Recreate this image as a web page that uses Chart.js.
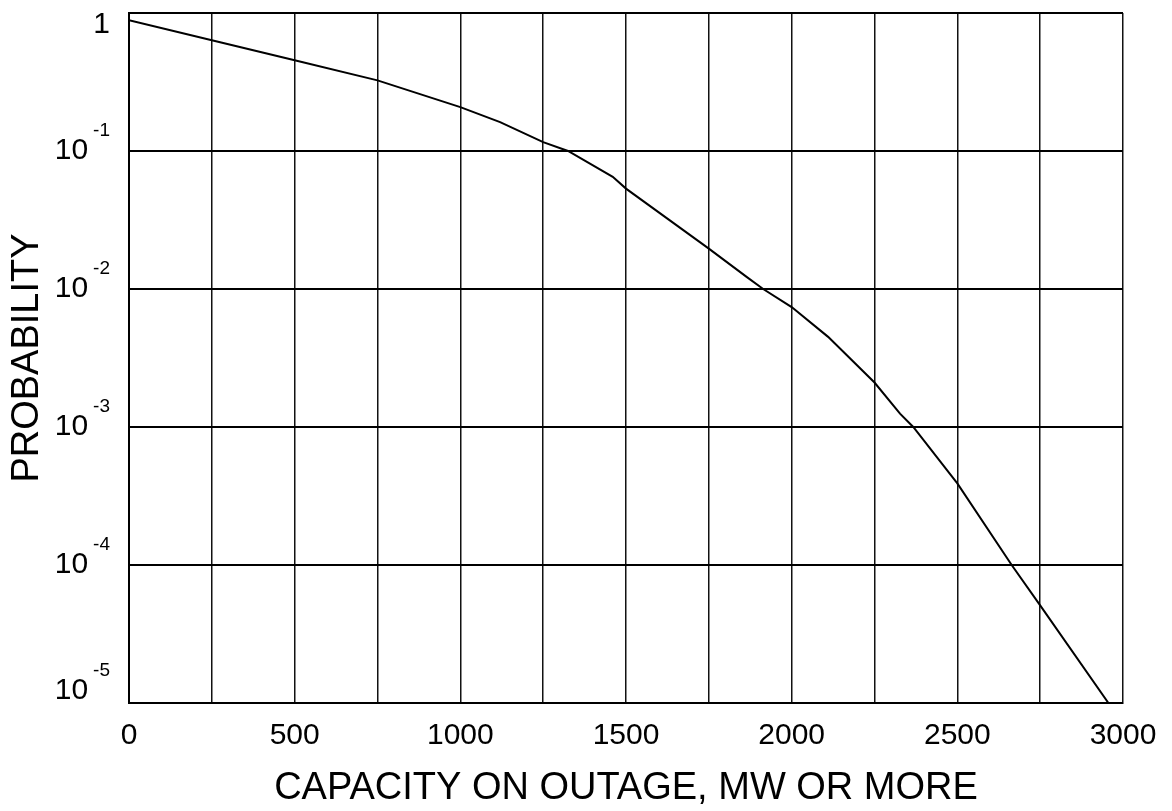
<!DOCTYPE html>
<html>
<head>
<meta charset="utf-8">
<title>Capacity outage probability</title>
<script src="https://cdn.jsdelivr.net/npm/chart.js@4.4.1/dist/chart.umd.min.js"></script>
<style>
  html, body { margin: 0; padding: 0; background: #fff; }
  #wrap { width: 1172px; height: 811px; position: relative; }
</style>
</head>
<body>
<div id="wrap"><canvas id="outageChart"></canvas></div>
<script>
// cumulative outage probability
const capacityMW = [0, 250, 500, 750, 1000, 1120, 1250, 1325, 1460, 1500, 1750, 1865, 1914, 2000, 2110, 2250, 2327, 2367, 2500, 2664, 2750, 2956];
const probability = [0.885, 0.634, 0.454, 0.325, 0.208, 0.162, 0.116, 0.1, 0.065, 0.0534, 0.0196, 0.0122, 0.01, 0.0074, 0.0045, 0.0021, 0.00125, 0.001, 0.00039, 0.0001, 0.000051, 0.00001];

const xTicks = [0, 250, 500, 750, 1000, 1250, 1500, 1750, 2000, 2250, 2500, 2750, 3000];
const yTicks = [1e-5, 1e-4, 1e-3, 1e-2, 1e-1, 1];
const yTickBase = ["10", "10", "10", "10", "10", "1"];
const yTickExp = ["-5", "-4", "-3", "-2", "-1", ""];

const FONT = "'Liberation Sans', Arial, Helvetica, sans-serif";
Chart.defaults.font.family = FONT;
Chart.defaults.color = "#000";

// y labels are drawn by hand so the exponent can sit raised
const powerLabels = {
  id: "powerLabels",
  afterDraw(chart) {
    const ctx = chart.ctx;
    const y = chart.scales.y;
    const right = 110;
    ctx.save();
    ctx.fillStyle = "#000";
    ctx.textBaseline = "middle";
    yTicks.forEach((v, i) => {
      let py = y.getPixelForValue(v);
      py = Math.min(Math.max(py, y.top + 12), y.bottom - 12);
      ctx.font = "19px " + FONT;
      const expW = yTickExp[i] ? ctx.measureText(yTickExp[i]).width + 5 : 0;
      if (yTickExp[i]) {
        ctx.textAlign = "right";
        ctx.fillText(yTickExp[i], right, py - 20);
      }
      ctx.font = "30px " + FONT;
      ctx.textAlign = "right";
      ctx.fillText(yTickBase[i], right - expW, py);
    });
    ctx.restore();
  }
};

new Chart(document.getElementById("outageChart"), {
  type: "scatter",
  data: {
    datasets: [{
      data: capacityMW.map((x, i) => ({ x: x, y: probability[i] })),
      showLine: true,
      borderColor: "#000",
      borderWidth: 2,
      pointRadius: 0,
      tension: 0
    }]
  },
  options: {
    responsive: true,
    maintainAspectRatio: false,
    animation: false,
    layout: { padding: { top: 13, right: 49, left: 0, bottom: 0 } },
    plugins: {
      legend: { display: false },
      tooltip: { enabled: false }
    },
    scales: {
      x: {
        type: "linear",
        min: 0,
        max: 3000,
        afterBuildTicks: scale => { scale.ticks = xTicks.map(v => ({ value: v })); },
        afterFit: scale => { scale.height = 108; },
        ticks: {
          autoSkip: false,
          maxRotation: 0,
          padding: 15,
          font: { size: 30 },
          callback: v => (v % 500 === 0 ? String(v) : "")
        },
        grid: { color: "#111", lineWidth: 1.5, drawTicks: false },
        border: { color: "#000", width: 2 },
        title: {
          display: true,
          text: "CAPACITY ON OUTAGE, MW OR MORE",
          font: { size: 38 },
          padding: { top: 0, bottom: 0 }
        }
      },
      y: {
        type: "logarithmic",
        min: 1e-5,
        max: 1,
        afterBuildTicks: scale => { scale.ticks = yTicks.map(v => ({ value: v })); },
        afterFit: scale => { scale.width = 129; },
        ticks: { display: false },
        grid: { color: "#000", lineWidth: 2, drawTicks: false },
        border: { color: "#000", width: 2 },
        title: {
          display: true,
          text: "PROBABILITY",
          font: { size: 38 },
          padding: { top: 5, bottom: 0 }
        }
      }
    }
  },
  plugins: [powerLabels]
});
</script>
</body>
</html>
